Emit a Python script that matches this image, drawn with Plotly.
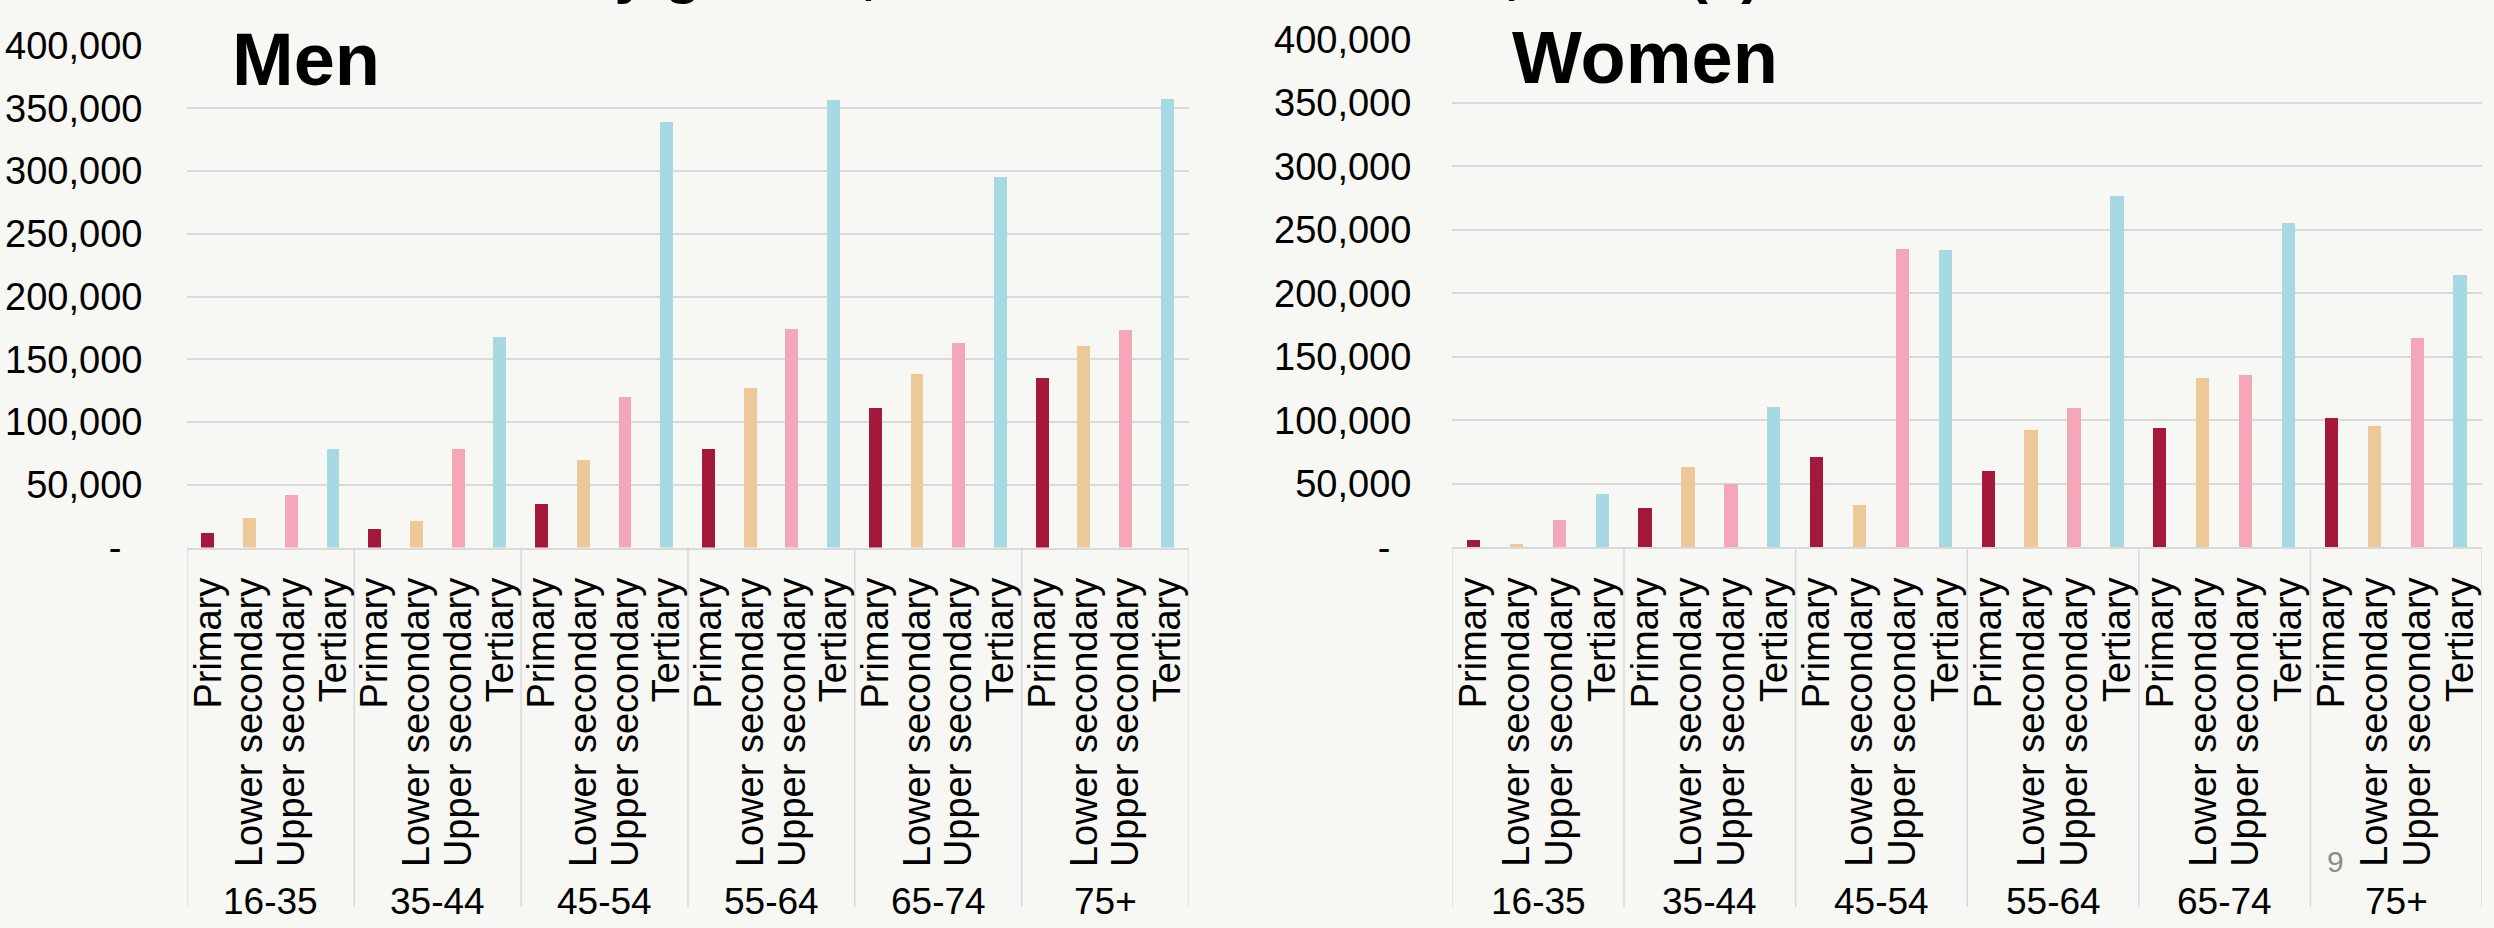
import plotly.graph_objects as go

# Categories
age_groups = ["16-35", "35-44", "45-54", "55-64", "65-74", "75+"]
education = ["Primary", "Lower secondary", "Upper secondary", "Tertiary"]

# Men, by age group (one list per education level)
men_primary = [11700, 14900, 34700, 78400, 111200, 135300]
men_lower_secondary = [23600, 21400, 70000, 127700, 138300, 161100]
men_upper_secondary = [41800, 78900, 120100, 174600, 163200, 173800]
men_tertiary = [78900, 167800, 339500, 356800, 295300, 357700]

# Women, by age group (one list per education level)
women_primary = [5100, 30600, 70600, 59600, 93900, 101900]
women_lower_secondary = [2400, 63000, 33000, 91700, 133100, 95500]
women_upper_secondary = [21200, 49600, 234400, 109700, 135200, 164400]
women_tertiary = [41300, 110500, 233600, 276600, 255400, 214100]

# Value axis ticks
y_tick_values = [0, 50000, 100000, 150000, 200000, 250000, 300000, 350000, 400000]
y_tick_labels = ["-\u00a0\u00a0", "50,000", "100,000", "150,000", "200,000",
                 "250,000", "300,000", "350,000", "400,000"]

edu_colors = ["#A41839", "#EDC99A", "#F3A7B9", "#A7D9E3"]

FONT = "Liberation Sans, Arial, sans-serif"
BG = "#F7F7F3"
GRID = "#D9D9D9"
W, H = 2494, 928
TICK_SIZE = 38
GROUP_SIZE = 37


def panel_data(primary, lower, upper, tertiary):
    """One category per (age group, education) pair, in display order."""
    keys, names, vals, cols = [], [], [], []
    series = [primary, lower, upper, tertiary]
    for gi, g in enumerate(age_groups):
        for ei, e in enumerate(education):
            keys.append(f"{g} | {e}")
            names.append(e)
            vals.append(series[ei][gi])
            cols.append(edu_colors[ei])
    return keys, names, vals, cols


fig = go.Figure()
annotations = []
shapes = []

# Panel geometry in pixels: (left, right, top of 400k, baseline)
panels = [(186.5, 1188, 25.9, 551.5), (1452, 2482, 19.2, 551.2)]
panel_series = [
    (men_primary, men_lower_secondary, men_upper_secondary, men_tertiary),
    (women_primary, women_lower_secondary, women_upper_secondary, women_tertiary),
]

for idx, ((l, r, t, b), data) in enumerate(zip(panels, panel_series)):
    sfx = "" if idx == 0 else "2"
    keys, names, vals, cols = panel_data(*data)
    fig.add_trace(go.Bar(
        x=keys, y=vals, marker=dict(color=cols, line=dict(width=0)),
        width=0.31, xaxis="x" + sfx, yaxis="y" + sfx,
        showlegend=False, hoverinfo="skip",
    ))
    xd = [l / W, r / W]
    yd = [1 - b / H, 1 - t / H]
    fig.update_layout({
        "xaxis" + sfx: dict(
            type="category", domain=xd, anchor="y" + sfx,
            range=[-0.5, len(keys) - 0.5],
            tickmode="array", tickvals=keys, ticktext=names,
            tickangle=-90,
            tickfont=dict(family=FONT, size=TICK_SIZE, color="#000000"),
            showline=True, linecolor=GRID, linewidth=2,
            showgrid=False, zeroline=False, ticks="", ticklabelstandoff=13,
        ),
        "yaxis" + sfx: dict(
            domain=yd, anchor="x" + sfx, range=[0, 400000],
            tickmode="array", tickvals=y_tick_values, ticktext=y_tick_labels,
            tickfont=dict(family=FONT, size=TICK_SIZE, color="#000000"),
            showgrid=True, gridcolor=GRID, gridwidth=2,
            zeroline=False, showline=False, ticks="",
            ticklabelstandoff=44 if idx == 0 else 40,
        ),
    })
    # Age-group dividers below the axis and age-group labels
    n_edu = len(education)
    for gi, g in enumerate(age_groups):
        annotations.append(dict(
            text=g, xref="x" + sfx, yref="paper",
            x=gi * n_edu + (n_edu - 1) / 2, y=1 - 922 / H,
            xanchor="center", yanchor="middle", showarrow=False,
            font=dict(family=FONT, size=GROUP_SIZE, color="#000000"),
        ))
    for k in range(len(age_groups) + 1):
        xv = k * n_edu - 0.5
        shapes.append(dict(
            type="line", xref="x" + sfx, yref="paper",
            x0=xv, x1=xv, y0=0, y1=yd[0],
            line=dict(color=GRID, width=1.5), layer="below",
        ))

annotations += [
    # Overall heading running off the top edge
    dict(text="<b>Net wealth by gender, education and cohort, 2017 (€)</b>",
         xref="paper", yref="paper", x=258 / W, y=1, xanchor="left",
         yanchor="bottom", yshift=14, showarrow=False,
         font=dict(family=FONT, size=60, color="#000000")),
    dict(text="<b>Men</b>", xref="paper", yref="paper", x=229 / W, y=1 - 40 / H,
         xanchor="left", yanchor="middle", showarrow=False,
         font=dict(family=FONT, size=74, color="#000000")),
    dict(text="<b>Women</b>", xref="paper", yref="paper", x=1510 / W, y=1 - 38 / H,
         xanchor="left", yanchor="middle", showarrow=False,
         font=dict(family=FONT, size=74, color="#000000")),
    dict(text="9", xref="paper", yref="paper", x=2335 / W, y=1 - 880 / H,
         xanchor="center", yanchor="middle", showarrow=False,
         font=dict(family=FONT, size=30, color="#8C8C8C")),
]

fig.update_layout(
    width=W, height=H,
    margin=dict(l=0, r=0, t=0, b=0),
    paper_bgcolor=BG, plot_bgcolor=BG,
    bargap=0, barmode="overlay",
    annotations=annotations, shapes=shapes,
    showlegend=False,
)

fig.write_html("out.html", config={"displayModeBar": False})
